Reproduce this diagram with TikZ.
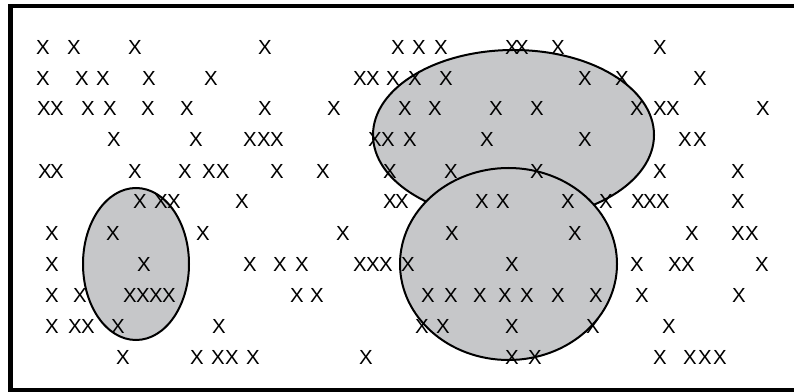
\documentclass[tikz,border=0pt]{standalone}
\usepackage{fontspec}
\setmainfont{Liberation Sans}
\definecolor{setgray}{HTML}{C6C7C9}
\begin{document}
\begin{tikzpicture}[x=0.025cm,y=-0.025cm,
    xmark/.style={inner sep=0pt,font=\fontsize{14.5}{14}\selectfont},
    blob/.style={draw=black,fill=setgray,line width=0.05cm}]

    \useasboundingbox (0,0) rectangle (794,392);

    % Marco
    \draw[line width=0.1cm] (10.5,6) rectangle (820,389.5);

    % Conjuntos
    \draw[blob] (136,264) ellipse [x radius=53,y radius=76];
    \draw[blob] (513.5,135) ellipse [x radius=140.5,y radius=85];
    \draw[blob] (508.5,264) ellipse [x radius=108.5,y radius=96];

    % Puntos: una fila por linea
    \foreach \x in {43,74,135,265,398,419,441,512,522,558,660}
        \node[xmark] (a-\x) at (\x,47) {X};
    \foreach \x in {43,82,103,149,211,360,373,393,415,446,585,622,700}
        \node[xmark] (b-\x) at (\x,78) {X};
    \foreach \x in {44,57,88,110,148,187,265,334,405,435,496,537,637,660,673,763}
        \node[xmark] (c-\x) at (\x,108) {X};
    \foreach \x in {114,196,250,264,277,375,388,410,487,585,685,700}
        \node[xmark] (d-\x) at (\x,139) {X};
    \foreach \x in {45,57,135,185,209,223,277,323,390,451,537,660,738}
        \node[xmark] (e-\x) at (\x,171) {X};
    \foreach \x in {140,161,174,242,390,402,482,503,568,606,638,650,663,738}
        \node[xmark] (f-\x) at (\x,201) {X};
    \foreach \x in {52,113,203,343,452,575,692,738,752}
        \node[xmark] (g-\x) at (\x,233) {X};
    \foreach \x in {52,144,250,280,302,360,373,386,408,512,637,675,688,762}
        \node[xmark] (h-\x) at (\x,264) {X};
    \foreach \x in {52,80,130,143,156,169,297,317,428,451,480,505,527,558,596,642,739}
        \node[xmark] (i-\x) at (\x,295) {X};
    \foreach \x in {52,75,88,118,219,422,443,512,593,669}
        \node[xmark] (j-\x) at (\x,326) {X};
    \foreach \x in {123,197,218,232,253,366,512,535,660,690,705,720}
        \node[xmark] (k-\x) at (\x,357) {X};

\end{tikzpicture}
\end{document}
